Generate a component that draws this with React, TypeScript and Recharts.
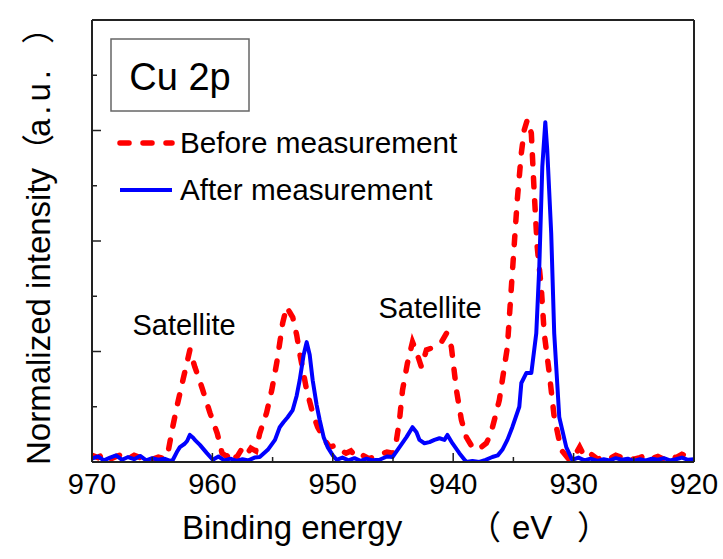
import React from 'react';
import { LineChart, Line, XAxis, YAxis } from 'recharts';

// Binding energy (eV) and normalized intensity, "Before measurement"
const beforeEnergy = [
  970, 969.5, 969, 968.5, 968, 967.5, 967, 966.5, 966, 965.5, 965, 964.5, 964, 963.7, 963.3, 962.95,
  962.45, 962.12, 961.87, 961.7, 961.46, 961.1, 960.8, 960.2, 959.6, 959.2, 958.8, 958.4, 958, 957.6,
  957.2, 956.8, 956.4, 956.07, 955.5, 955.07, 954.66, 954.41, 954.16, 953.83, 953.58, 953.33, 953.0,
  952.75, 952.17, 951.67, 951.26, 950.68, 950.27, 949.8, 949.4, 948.9, 948.5, 948, 947.5, 947, 946.5,
  946, 945.5, 945.0, 944.71, 944.46, 944.21, 943.8, 943.38, 943.05, 942.64, 942.22, 941.56, 940.98,
  940.56, 940.15, 939.73, 939.32, 938.91, 938.5, 938.08, 937.6, 937.25, 936.9, 936.58, 936.17, 935.92,
  935.5, 935.09, 934.68, 934.34, 934.1, 933.85, 933.51, 933.27, 933.02, 932.69, 932.44, 932.02, 931.61,
  931.03, 930.36, 929.9, 929.5, 929.1, 928.6, 928, 927.5, 927, 926.5, 926, 925.5, 925, 924.5, 924,
  923.5, 923, 922.5, 922, 921.5, 921, 920.5, 920,
];
const beforeIntensity = [
  0.12, 0.08, 0.15, 0.05, 0.1, 0.14, 0.06, 0.12, 0.08, 0.1, 0.05, 0.09, 0.06, 0.16, 0.63, 1.0,
  1.48, 1.79, 2.03, 1.9, 1.72, 1.5, 1.3, 0.89, 0.52, 0.16, 0.1, 0.2, 0.08, 0.22,
  0.12, 0.25, 0.2, 0.52, 0.89, 1.3, 1.79, 2.15, 2.52, 2.81, 2.71, 2.62, 2.3,
  1.97, 1.3, 0.89, 0.63, 0.4, 0.27, 0.3, 0.22, 0.16, 0.2, 0.08, 0.12, 0.06, 0.1,
  0.14, 0.18, 0.16, 0.4, 0.76, 1.3, 1.79, 2.17, 1.99, 1.72, 2.03, 2.08, 2.17,
  2.33, 2.08, 1.3, 0.76, 0.45, 0.3, 0.22, 0.28, 0.34, 0.5, 0.76, 1.12, 1.48,
  2.08, 3.42, 4.74, 5.59, 6.01, 6.19, 5.95, 4.87, 3.89, 3.17, 2.33, 1.61, 0.81,
  0.22, 0.04, 0.12, 0.27, 0.1, 0.15, 0.05, 0.1, 0.06, 0.12, 0.08, 0.1, 0.05, 0.08, 0.12,
  0.06, 0.1, 0.05, 0.12, 0.08, 0.14, 0.1, 0.08,
];

// "After measurement"
const afterEnergy = [
  970, 969.5, 969, 968.5, 968, 967.5, 967, 966.5, 966, 965.5, 965, 964.5, 964, 963.5, 963.28, 962.9,
  962.7, 962.3, 962.1, 961.87, 961.6, 961.46, 961.04, 960.46, 959.97, 959.5, 959, 958.5, 958, 957.5,
  957, 956.5, 956.07, 955.4, 954.8, 954.41, 954.1, 953.75, 953.33, 953.0, 952.75, 952.42, 952.17,
  951.92, 951.67, 951.34, 951.09, 950.76, 950.43, 950.0, 949.68, 949.2, 948.7, 948.2, 947.7, 947.2,
  946.7, 946.12, 945.5, 945.04, 944.46, 943.88, 943.38, 943.05, 942.8, 942.39, 941.97, 941.56, 941.14,
  940.73, 940.48, 940.07, 939.49, 938.91, 938.4, 937.83, 937.3, 936.75, 936.3, 935.92, 935.5, 935.09,
  934.51, 934.34, 933.93, 933.51, 933.1, 932.85, 932.6, 932.35, 932.19, 931.86, 931.61, 931.19, 930.61,
  930.12, 929.6, 929.1, 928.6, 928, 927.5, 927, 926.5, 926, 925.5, 925, 924.5, 924, 923.5, 923, 922.5,
  922, 921.5, 921, 920.5, 920,
];
const afterIntensity = [
  0.06, 0.1, 0.03, 0.08, 0.12, 0.04, 0.09, 0.05, 0.11, 0.03, 0.07, 0.04, 0.06, 0.02, 0.04, 0.2,
  0.27, 0.33, 0.38, 0.49, 0.44, 0.4, 0.31, 0.16, 0.04, 0.1, 0.03, 0.06, 0.02, 0.05,
  0.03, 0.08, 0.09, 0.22, 0.4, 0.63, 0.72, 0.81, 0.94, 1.2, 1.48, 1.94, 2.17,
  1.94, 1.48, 1.03, 0.76, 0.45, 0.27, 0.12, 0.04, 0.08, 0.03, 0.07, 0.02, 0.06,
  0.03, 0.04, 0.1, 0.09, 0.27, 0.45, 0.63, 0.54, 0.4, 0.34, 0.36, 0.4, 0.43,
  0.4, 0.49, 0.34, 0.16, 0.0, 0.02, 0.0, 0.04, 0.09, 0.12, 0.22, 0.4, 0.63,
  1.0, 1.43, 1.61, 1.61, 2.33, 3.53, 5.34, 6.15, 5.65, 4.14, 2.33, 0.81, 0.27,
  0.04, 0.08, 0.03, 0.06, 0.02, 0.05, 0.03, 0.07, 0.04, 0.06, 0.02, 0.05, 0.03, 0.06, 0.04, 0.07,
  0.03, 0.05, 0.08, 0.04, 0.05,
];

const xTicks = [920, 925, 930, 935, 940, 945, 950, 955, 960, 965, 970];
const yTicks = [1, 2, 3, 4, 5, 6, 7];
const seriesNames = ['Before measurement', 'After measurement'];
const satelliteLabel = 'Satellite';
const panelLabel = 'Cu 2p';
const xTitleParts = ['Binding energy', '（', 'eV', '）'];
const yTitleParts = ['Normalized intensity', '（', 'a.u.', '）'];

const beforeData = beforeEnergy.map((e, i) => ({ e, v: beforeIntensity[i] }));
const afterData = afterEnergy.map((e, i) => ({ e, v: afterIntensity[i] }));

const FONT = "'Liberation Sans', Arial, 'Noto Sans CJK SC', sans-serif";
const AXIS = '#222';

const XTick = (props: any) => {
  const { x, y, payload } = props;
  const v = payload.value;
  const major = v % 10 === 0;
  return (
    <g>
      <line x1={x} x2={x} y1={y} y2={y - (major ? 9 : 5)} stroke={AXIS} strokeWidth={1.5} />
      {major && (
        <text x={x} y={y + 32} textAnchor="middle" fontSize={29} fontFamily={FONT} fill="#000">
          {v}
        </text>
      )}
    </g>
  );
};

const YTick = (props: any) => {
  const { x, y, payload } = props;
  const v = payload.value;
  const major = v % 2 === 0;
  return <line x1={x} x2={x + (major ? 9 : 5)} y1={y} y2={y} stroke={AXIS} strokeWidth={1.5} />;
};

export default function App() {
  return (
    <div style={{ position: 'absolute', left: 0, top: 0, width: 723, height: 559, background: '#fff' }}>
      <LineChart width={723} height={559} margin={{ top: 19, right: 28, bottom: 96, left: 91 }}>
        <XAxis
          xAxisId={0}
          type="number"
          dataKey="e"
          domain={[920, 970]}
          reversed
          allowDataOverflow
          ticks={xTicks}
          interval={0}
          height={1}
          tickSize={0}
          tickMargin={0}
          tickLine={false}
          tick={<XTick />}
          axisLine={{ stroke: AXIS, strokeWidth: 2 }}
        />
        <XAxis
          xAxisId="top"
          orientation="top"
          type="number"
          dataKey="e"
          domain={[920, 970]}
          reversed
          height={1}
          tick={false}
          tickLine={false}
          axisLine={{ stroke: AXIS, strokeWidth: 2 }}
        />
        <YAxis
          yAxisId={0}
          type="number"
          domain={[0, 8]}
          allowDataOverflow
          ticks={yTicks}
          interval={0}
          width={1}
          tickSize={0}
          tickMargin={0}
          tickLine={false}
          tick={<YTick />}
          axisLine={{ stroke: AXIS, strokeWidth: 2 }}
        />
        <YAxis
          yAxisId="right"
          orientation="right"
          type="number"
          domain={[0, 8]}
          width={1}
          tick={false}
          tickLine={false}
          axisLine={{ stroke: AXIS, strokeWidth: 2 }}
        />
        <Line
          data={beforeData}
          dataKey="v"
          name={seriesNames[0]}
          type="linear"
          stroke="#ff0000"
          strokeWidth={5.5}
          strokeDasharray="9 14"
          strokeLinecap="round"
          dot={false}
          activeDot={false}
          isAnimationActive={false}
        />
        <Line
          data={afterData}
          dataKey="v"
          name={seriesNames[1]}
          type="linear"
          stroke="#0000ff"
          strokeWidth={4}
          strokeLinejoin="round"
          dot={false}
          activeDot={false}
          isAnimationActive={false}
        />
      </LineChart>
      <svg
        width={723}
        height={559}
        style={{ position: 'absolute', left: 0, top: 0, pointerEvents: 'none' }}
        fontFamily={FONT}
      >
        <rect x={111} y={39} width={138} height={72} fill="none" stroke="#666" strokeWidth={1.5} />
        <text x={180} y={90} textAnchor="middle" fontSize={38} fill="#000">
          {panelLabel}
        </text>
        <line x1={120} x2={172} y1={143} y2={143} stroke="#ff0000" strokeWidth={5.5} strokeDasharray="9 14" strokeLinecap="round" />
        <text x={180} y={153} fontSize={29.7} fill="#000">
          {seriesNames[0]}
        </text>
        <line x1={120} x2={172} y1={190} y2={190} stroke="#0000ff" strokeWidth={4} />
        <text x={180} y={200} fontSize={29.7} fill="#000">
          {seriesNames[1]}
        </text>
        <text x={184} y={335} textAnchor="middle" fontSize={29} fill="#000">
          {satelliteLabel}
        </text>
        <text x={430} y={318} textAnchor="middle" fontSize={29} fill="#000">
          {satelliteLabel}
        </text>
        <text y={539} fontSize={33} fill="#000">
          <tspan x={182}>{xTitleParts[0]}</tspan>
          <tspan x={468}>{xTitleParts[1]}</tspan>
          <tspan x={512}>{xTitleParts[2]}</tspan>
          <tspan x={577}>{xTitleParts[3]}</tspan>
        </text>
        <text x={0} y={0} transform="translate(50,240) rotate(-90)" fontSize={33} fill="#000">
          <tspan x={-225}>{yTitleParts[0]}</tspan>
          <tspan x={73}>{yTitleParts[1]}</tspan>
          <tspan x={103} letterSpacing={4}>{yTitleParts[2]}</tspan>
          <tspan x={196}>{yTitleParts[3]}</tspan>
        </text>
      </svg>
    </div>
  );
}
